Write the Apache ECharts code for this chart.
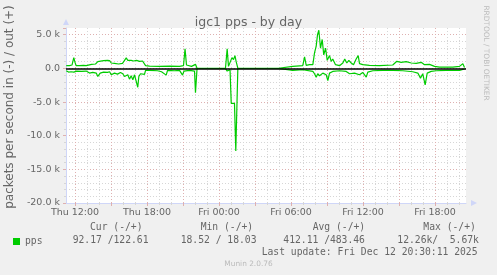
<!DOCTYPE html>
<html><head><meta charset="utf-8">
<script src="https://cdn.jsdelivr.net/npm/echarts@6/dist/echarts.min.js"></script>
<style>html,body{margin:0;padding:0;background:#f0f0f0}#c{width:497px;height:275px}</style>
</head><body><div id="c"></div>
<script>
// time in hours since Thu 00:00
const outHours = [11.27,11.54,11.75,11.90,12.00,12.10,12.38,12.71,12.93,13.07,13.38,13.71,13.90,14.04,14.38,14.71,14.88,15.02,15.29,15.63,15.96,16.13,16.27,16.40,16.54,16.68,16.88,17.13,17.38,17.63,17.79,17.88,
18.21,19.04,19.88,20.71,21.04,21.17,21.29,21.71,22.04,22.17,
23.21,24.54,24.68,24.79,24.92,25.08,25.21,25.33,25.43,25.57,
27.38,28.96,
29.04,30.15,30.98,31.13,31.27,31.54,31.82,31.96,32.10,32.21,32.32,32.46,32.60,32.73,32.88,33.02,33.21,33.35,33.48,33.71,34.04,34.32,34.48,34.65,34.82,35.02,35.21,35.43,35.60,35.71,35.98,36.54,37.38,38.48,38.82,39.18,39.60,40.02,40.43,40.85,41.13,41.54,41.96,42.38,42.93,43.48,44.04,44.32,44.46];
const outKpps = [0.4,0.4,0.5,1.6,0.9,0.4,0.4,0.45,0.4,0.65,0.6,0.65,1.0,1.2,1.15,1.2,1.15,0.8,0.75,0.65,0.75,1.2,1.55,1.2,1.45,1.2,1.1,1.2,1.05,1.1,1.0,0.4,
0.35,0.3,0.35,0.3,0.4,2.9,0.5,0.3,0.6,0.02,
0.02,0.03,2.9,0.3,0.1,1.6,1.3,1.9,1.0,0.03,
0.02,0.02,
0.3,0.3,0.4,1.7,0.45,0.55,0.55,2.3,3.3,5.0,5.67,3.0,4.3,2.0,3.0,1.2,1.9,1.05,1.4,0.55,0.4,0.8,1.4,0.8,1.2,0.8,0.55,1.4,1.9,0.7,0.55,0.45,0.4,0.5,1.05,0.9,1.0,0.8,0.75,0.9,0.55,0.6,0.3,0.2,0.2,0.2,0.3,0.7,0.12];
const inHours = [11.27,11.46,11.68,11.79,11.90,11.96,12.13,12.54,12.93,13.07,13.21,13.48,13.77,13.90,13.98,14.10,14.38,14.71,14.88,15.02,15.15,15.29,15.54,15.79,15.98,16.13,16.27,16.40,16.54,16.68,16.82,16.96,17.10,17.23,17.32,17.46,17.79,17.88,
18.21,18.88,19.21,19.60,19.71,20.29,20.71,20.96,21.08,21.54,21.96,22.04,22.17,
23.21,24.54,24.68,24.79,24.92,25.02,25.29,25.40,25.57,
27.38,28.96,
29.04,30.15,30.98,31.82,31.96,32.10,32.23,32.38,32.65,32.93,33.07,33.21,33.48,34.04,34.60,34.88,35.29,35.71,35.98,36.27,36.40,36.82,37.65,38.48,39.32,40.15,40.57,40.79,40.98,41.18,41.35,41.68,42.10,42.93,44.04,44.46];
const inKpps = [0.35,0.55,0.5,0.7,0.55,0.3,0.4,0.45,0.4,0.45,0.7,0.6,0.7,1.2,1.45,0.7,0.55,0.6,0.5,0.95,1.2,0.7,0.85,0.6,0.8,1.2,1.4,0.95,1.6,1.1,1.7,0.95,1.2,2.8,1.2,0.8,0.9,0.3,
0.3,0.35,0.5,1.0,0.3,0.35,0.3,1.0,0.4,0.3,0.4,3.6,0.02,
0.02,0.02,0.4,0.15,0.2,5.2,5.2,12.26,0.02,
0.02,0.02,
0.2,0.3,0.2,0.45,0.8,1.3,0.8,1.1,0.7,0.95,1.8,0.7,0.45,0.35,0.45,0.8,0.7,0.95,0.6,1.3,0.55,0.35,0.3,0.3,0.35,0.5,0.7,1.45,0.8,2.45,0.7,0.45,0.35,0.3,0.3,0.09];

const xTickHours = [12, 18, 24, 30, 36, 42];
const xTickLabels = ['Thu 12:00', 'Thu 18:00', 'Fri 00:00', 'Fri 06:00', 'Fri 12:00', 'Fri 18:00'];
const yTickValues = [5000, 0, -5000, -10000, -15000, -20000];
const yTickLabels = ['5.0 k', '0.0', '-5.0 k', '-10.0 k', '-15.0 k', '-20.0 k'];

const legendHeaders = ['Cur (-/+)', 'Min (-/+)', 'Avg (-/+)', 'Max (-/+)'];
const legendValues = ['92.17 /122.61', '18.52 / 18.03', '412.11 /483.46', '12.26k/  5.67k'];
const lastUpdate = 'Last update: Fri Dec 12 20:30:11 2025';

const X_MIN = 11.25, STEPS = 400, STEP_H = 1 / 12, X_MAX = X_MIN + STEPS * STEP_H;
const GREEN = '#00cc00', TXT = '#666666', AXIS = '#cfd6f8';
const MINOR = '#d6d6d6', MAJOR = '#deb0b0';
const SANS = 'DejaVu Sans', MONO = 'DejaVu Sans Mono';

const outData = outHours.map((h, i) => [h, outKpps[i] * 1000]);
const inData = inHours.map((h, i) => [h, -inKpps[i] * 1000]);

// 5-minute slots across the plot, used only for grid lines, ticks and labels
const slots = [];
for (let i = 0; i <= STEPS; i++) slots.push(String(i));
const slotHour = i => X_MIN + i * STEP_H;
const isWhole = (h, n) => { const r = h / n; return Math.abs(r - Math.round(r)) < 1e-6; };
const isHourSlot = i => isWhole(slotHour(i), 1);
const isMajorSlot = i => isWhole(slotHour(i), 3);
const isLabelSlot = i => xTickHours.some(h => Math.abs(h - slotHour(i)) < 1e-6);
function xLabel(v) {
  const h = slotHour(+v);
  const i = xTickHours.findIndex(t => Math.abs(t - h) < 1e-6);
  return i >= 0 ? xTickLabels[i] : '';
}
function yLabel(v) {
  const i = yTickValues.findIndex(t => Math.abs(t - v) < 1e-6);
  return i >= 0 ? yTickLabels[i] : '';
}

const legendX = [90, 200.7, 312.7, 423.3];
const valueX = [72.7, 180.7, 283.3, 397.3];
const graphics = [];
legendHeaders.forEach((t, i) => graphics.push({type: 'text', x: legendX[i], y: 227.5,
  style: {text: t, font: '9.7px ' + MONO, fill: TXT, align: 'left', verticalAlign: 'middle'}}));
legendValues.forEach((t, i) => graphics.push({type: 'text', x: valueX[i], y: 240,
  style: {text: t, font: '9.7px ' + MONO, fill: TXT, align: 'left', verticalAlign: 'middle'}}));
graphics.push({type: 'text', x: 261.7, y: 252,
  style: {text: lastUpdate, font: '9.7px ' + MONO, fill: TXT, align: 'left', verticalAlign: 'middle'}});
graphics.push({type: 'text', x: 248.5, y: 264,
  style: {text: 'Munin 2.0.76', font: '7.4px ' + SANS, fill: '#bbbbbb', align: 'center', verticalAlign: 'middle'}});
graphics.push({type: 'text', x: 486, y: 53, rotation: -Math.PI / 2,
  style: {text: 'RRDTOOL / TOBI OETIKER', font: '7.4px ' + SANS, fill: '#bbbbbb', align: 'center', verticalAlign: 'middle'}});
graphics.push({type: 'text', x: 10, y: 107, rotation: Math.PI / 2,
  style: {text: 'packets per second in (-) / out (+)', font: '12px ' + SANS, fill: TXT, align: 'center', verticalAlign: 'middle'}});

const chart = echarts.init(document.getElementById('c'), null, {renderer: 'canvas'});
chart.setOption({
  animation: false,
  backgroundColor: '#f0f0f0',
  title: {text: 'igc1 pps - by day', left: 'center', top: 11,
    textStyle: {fontFamily: SANS, fontSize: 12.5, fontWeight: 'normal', color: TXT}},
  legend: {data: ['pps'], left: 13, top: 236.5, padding: 0, icon: 'rect', itemWidth: 7, itemHeight: 7,
    textStyle: {fontFamily: MONO, fontSize: 9.7, color: TXT}},
  grid: {left: 66, right: 31, top: 28, bottom: 72, show: true, backgroundColor: '#ffffff', borderWidth: 0},
  xAxis: [
    {type: 'category', data: slots, boundaryGap: false, position: 'bottom',
      axisLine: {show: false, onZero: false}, axisLabel: {show: false},
      axisTick: {show: true, length: 2, interval: i => isHourSlot(i), lineStyle: {color: MINOR}},
      splitLine: {show: true, interval: i => isHourSlot(i), lineStyle: {color: MINOR, type: [1, 2]}}},
    {type: 'category', data: slots, boundaryGap: false, position: 'bottom',
      axisLine: {show: true, onZero: false, lineStyle: {color: AXIS, width: 1}, symbol: ['none', 'triangle'], symbolSize: [6, 6], symbolOffset: [0, 8]},
      axisTick: {show: true, length: 3, interval: i => isMajorSlot(i), lineStyle: {color: MAJOR}},
      axisLabel: {show: true, interval: i => isLabelSlot(i), formatter: xLabel, margin: 5, fontFamily: SANS, fontSize: 9.5, color: TXT},
      splitLine: {show: true, interval: i => isMajorSlot(i), lineStyle: {color: MAJOR, type: [1, 2]}}},
    {type: 'value', min: X_MIN, max: X_MAX, show: false}
  ],
  yAxis: [
    {type: 'value', min: -20000, max: 6000, interval: 1000, position: 'left',
      axisLine: {show: false, onZero: false}, axisLabel: {show: false},
      axisTick: {show: true, length: 2, lineStyle: {color: MINOR}},
      splitLine: {show: true, showMinLine: false, showMaxLine: false, lineStyle: {color: MINOR, type: [1, 2]}}},
    {type: 'value', min: -20000, max: 6000, interval: 5000, position: 'left',
      axisLine: {show: true, onZero: false, lineStyle: {color: AXIS, width: 1}, symbol: ['none', 'triangle'], symbolSize: [6, 6], symbolOffset: [0, 6]},
      axisTick: {show: true, length: 3, lineStyle: {color: MAJOR}},
      axisLabel: {show: true, formatter: yLabel, margin: 6, fontFamily: SANS, fontSize: 9.5, color: TXT},
      splitLine: {show: true, showMinLine: false, showMaxLine: false, lineStyle: {color: MAJOR, type: [1, 2]}}}
  ],
  series: [
    {name: 'pps', type: 'line', xAxisIndex: 2, yAxisIndex: 1, data: inData, showSymbol: false,
      itemStyle: {color: GREEN}, lineStyle: {color: GREEN, width: 1.2}},
    {name: 'pps', type: 'line', xAxisIndex: 2, yAxisIndex: 1, data: outData, showSymbol: false,
      itemStyle: {color: GREEN}, lineStyle: {color: GREEN, width: 1.2},
      markLine: {silent: true, symbol: 'none', label: {show: false}, animation: false,
        lineStyle: {color: '#000000', width: 1.5, type: 'solid'}, data: [{yAxis: 0}]}}
  ],
  graphic: graphics
});
</script></body></html>
